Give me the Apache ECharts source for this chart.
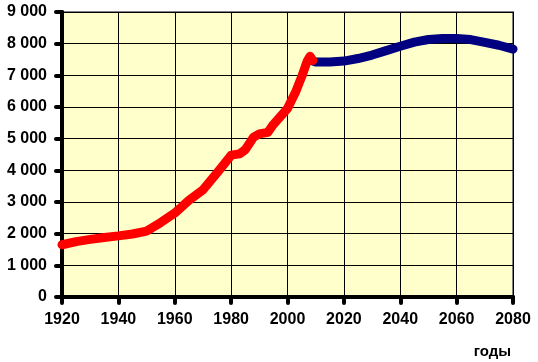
<!DOCTYPE html>
<html>
<head>
<meta charset="utf-8">
<script src="https://cdn.jsdelivr.net/npm/echarts@6/dist/echarts.min.js"></script>
<style>
html, body { margin: 0; padding: 0; background: #fff; }
#main { width: 538px; height: 362px; }
</style>
</head>
<body>
<div id="main"></div>
<script>
// население мира, млн. чел. — фактические данные (красный) и прогноз (синий)
var histYears = [1920, 1925, 1930, 1935, 1940, 1945, 1950, 1955, 1960, 1965, 1970, 1975, 1978, 1980, 1983, 1985, 1988, 1990, 1993, 1995, 2000, 2003, 2005, 2007, 2008, 2009];
var histValues = [1650, 1750, 1820, 1880, 1930, 1990, 2080, 2350, 2650, 3050, 3380, 3920, 4250, 4480, 4520, 4650, 5050, 5150, 5200, 5450, 5950, 6500, 6950, 7450, 7600, 7470];
var fcYears = [2009, 2010, 2015, 2020, 2025, 2030, 2035, 2040, 2045, 2050, 2055, 2060, 2065, 2070, 2075, 2080];
var fcValues = [7450, 7420, 7420, 7450, 7530, 7640, 7780, 7920, 8050, 8130, 8160, 8160, 8130, 8040, 7950, 7830];

function pairs(xs, ys) {
    var out = [];
    for (var i = 0; i < xs.length; i++) out.push([xs[i], ys[i]]);
    return out;
}

var myChart = echarts.init(document.getElementById('main'));

var labelFont = {
    color: '#000',
    fontFamily: 'Liberation Sans, Arial, sans-serif',
    fontWeight: 'bold',
    fontSize: 16
};

var option = {
    animation: false,
    title: {
        text: 'годы',
        right: 22,
        top: 339,
        textStyle: { color: '#000', fontFamily: 'Liberation Sans, Arial, sans-serif', fontWeight: 'bold', fontSize: 15 }
    },
    grid: {
        left: 62, right: 25, top: 12, bottom: 65,
        show: true,
        backgroundColor: '#FFFFCC',
        borderColor: '#808080',
        borderWidth: 2
    },
    xAxis: {
        type: 'value',
        min: 1920, max: 2080, interval: 20,
        axisLine: { show: true, lineStyle: { color: '#000', width: 4 } },
        axisTick: { show: true, length: 6, lineStyle: { color: '#000', width: 4, cap: 'round' } },
        axisLabel: Object.assign({
            margin: 15,
            formatter: function (v) { return String(v); }
        }, labelFont),
        splitLine: { show: true, lineStyle: { color: '#000', width: 1 } }
    },
    yAxis: {
        type: 'value',
        min: 0, max: 9000, interval: 1000,
        axisLine: { show: true, lineStyle: { color: '#000', width: 4 } },
        axisTick: { show: true, length: 6, lineStyle: { color: '#000', width: 4, cap: 'round' } },
        axisLabel: Object.assign({
            margin: 15,
            formatter: function (v) {
                return v >= 1000 ? Math.floor(v / 1000) + ' 000' : String(v);
            }
        }, labelFont),
        splitLine: { show: true, lineStyle: { color: '#000', width: 1 } }
    },
    series: [{
        type: 'line',
        data: pairs(histYears, histValues),
        symbol: 'none',
        lineStyle: { color: '#FF0000', width: 9, cap: 'round', join: 'round' },
        z: 3
    }, {
        type: 'line',
        data: pairs(fcYears, fcValues),
        symbol: 'none',
        lineStyle: { color: '#000080', width: 9, cap: 'round', join: 'round' },
        z: 2
    }]
};

myChart.setOption(option);
</script>
</body>
</html>
